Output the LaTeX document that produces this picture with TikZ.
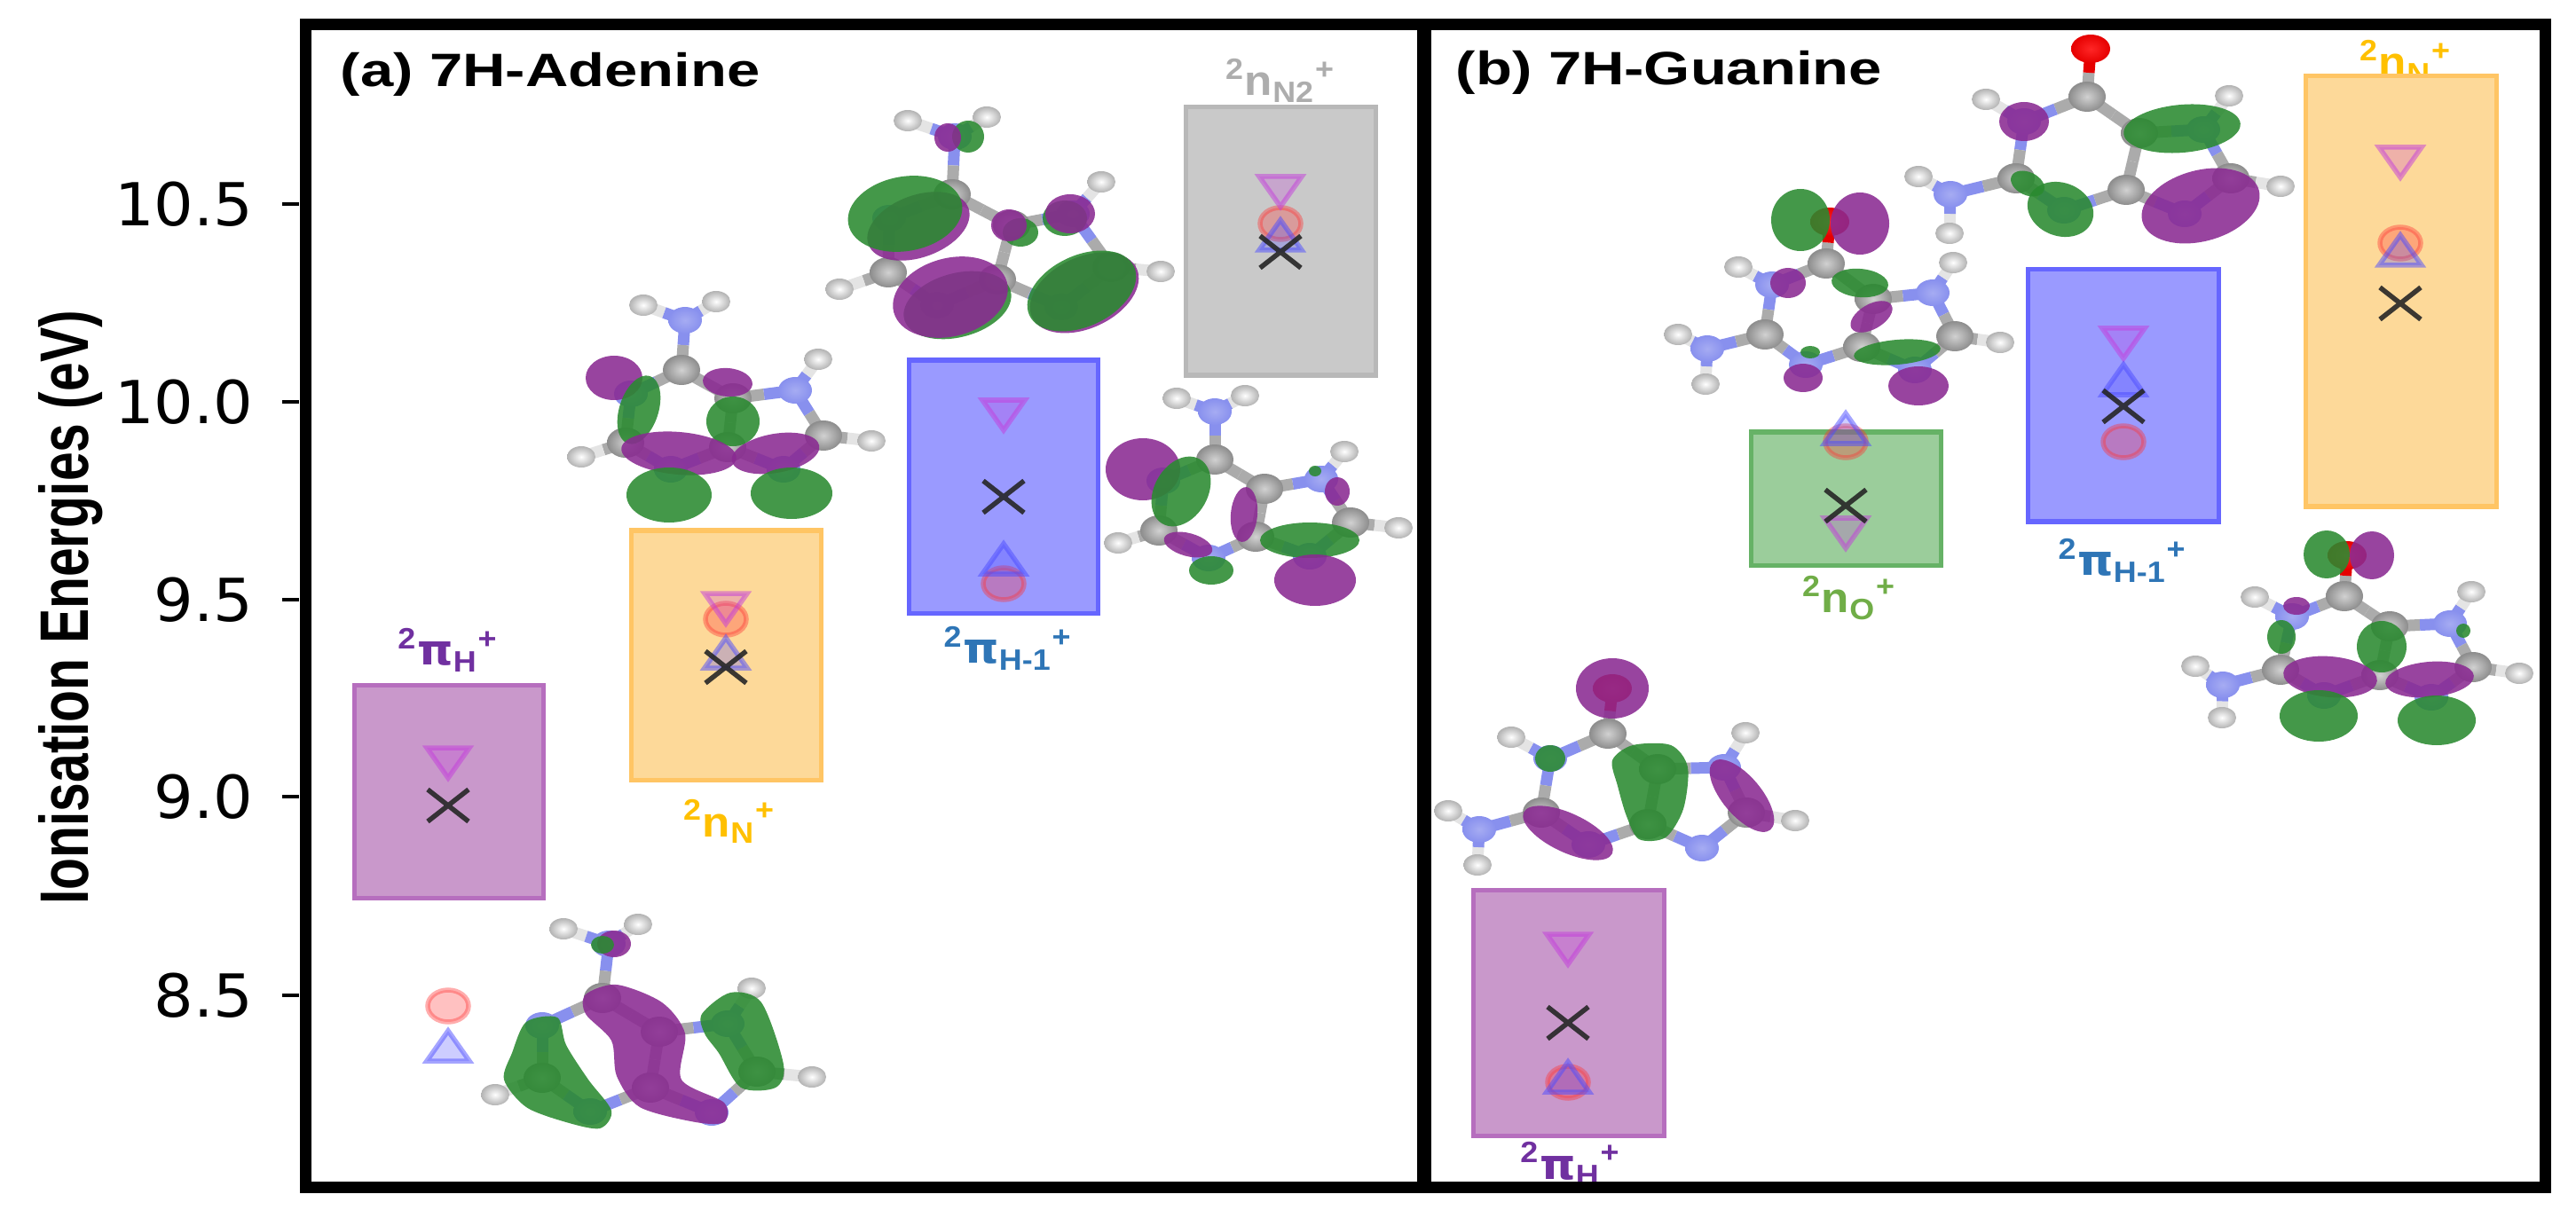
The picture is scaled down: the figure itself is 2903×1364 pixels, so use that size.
\documentclass[tikz,border=0pt]{standalone}
\usepackage{fontspec}
\setmainfont{Liberation Sans}
\newfontfamily\tickfont{DejaVu Sans}
\usetikzlibrary{calc}
\definecolor{stickc}{HTML}{ABABAB}
\definecolor{stickn}{HTML}{8890EE}
\definecolor{stickh}{HTML}{E4E4E4}
\definecolor{sticko}{HTML}{E60000}
\definecolor{lobegreen}{HTML}{2A8A30}
\definecolor{lobepurple}{HTML}{8A2A92}
\definecolor{dncol}{HTML}{C43CDC}
\tikzset{
	frameline/.style={line width=0.13cm,black},
	tickline/.style={line width=0.04cm,black},
	ticklab/.style={anchor=east,inner sep=0,xscale=1.05,transform shape,font=\tickfont\fontsize{19}{22}\selectfont},
	paneltitle/.style={anchor=base west,inner sep=0,xscale=1.27,transform shape,font=\bfseries\fontsize{15}{18}\selectfont},
	statelab/.style={inner sep=0,xscale=1.08,transform shape,font=\bfseries\fontsize{13.5}{16}\selectfont},
	ebox/.style={line width=0.05cm},
	stick/.style={line width=0.13cm},
	lobeg/.style={fill=lobegreen,opacity=0.88},
	lobep/.style={fill=lobepurple,opacity=0.88},
	dnmark/.style={draw=dncol,fill=dncol,draw opacity=0.5,fill opacity=0.25,line width=0.055cm,line join=miter},
	upmark/.style={draw=blue!70,fill=blue!70,draw opacity=0.5,fill opacity=0.28,line width=0.055cm,line join=miter},
	cimark/.style={draw=red!80,fill=red!80,draw opacity=0.4,fill opacity=0.3,line width=0.055cm},
	crmark/.style={draw=black!85,opacity=0.9,line width=0.055cm},
}
% half sticks, lobes and the three atom kinds
\def\halfstick#1#2#3{\draw[stick,#3] (#1) -- ($(#1)!0.5!(#2)$);}
\def\lobe#1(#2,#3)(#4:#5:#6){\fill[#1,shift={(#2,#3)},rotate=#6] (0,0) ellipse [x radius=#4, y radius=#5];}
\def\ionlab#1#2{\textsuperscript{2}#1\textsubscript{#2}\textsuperscript{+}}
\def\pisym{{\tickfont π}}
\def\hball#1{\shade[inner color=white,outer color=black!30] (#1) ellipse [x radius=16, y radius=12];}
\def\ringsticks{
	\foreach \p/\q/\cp/\cq in {ha1/na/stickh/stickn,ha2/na/stickh/stickn,c6/n1/stickc/stickn,n1/c2/stickn/stickc,c2/n3/stickc/stickn,n3/c4/stickn/stickc,c4/c5/stickc/stickc,c5/c6/stickc/stickc,c5/n7/stickc/stickn,n7/h7/stickn/stickh,n7/c8/stickn/stickc,c8/h8/stickc/stickh,c8/n9/stickc/stickn,n9/c4/stickn/stickc}{
		\halfstick{\p}{\q}{\cp}
		\halfstick{\q}{\p}{\cq}
	}
}
\def\ringballs{
	\foreach \a in {c6,c2,c4,c5,c8}{\shade[inner color=black!18,outer color=black!45] (\a) ellipse [x radius=21, y radius=17];}
	\foreach \a in {na,n1,n3,n7,n9}{\shade[inner color=stickn!75,outer color=stickn] (\a) ellipse [x radius=19, y radius=15];}
	\foreach \a in {ha1,ha2,h7,h8}{\hball{\a}}
}
\def\adenine#1{
	\foreach \n/\x/\y in {#1}{\coordinate (\n) at (\x,\y);}
	\halfstick{na}{c6}{stickn}\halfstick{c6}{na}{stickc}
	\halfstick{c2}{h2}{stickc}\halfstick{h2}{c2}{stickh}
	\ringsticks\ringballs
	\hball{h2}
}
\def\guanine#1{
	\foreach \n/\x/\y in {#1}{\coordinate (\n) at (\x,\y);}
	\halfstick{na}{c2}{stickn}\halfstick{c2}{na}{stickc}
	\halfstick{n1}{h1}{stickn}\halfstick{h1}{n1}{stickh}
	\halfstick{c6}{o}{stickc}\halfstick{o}{c6}{sticko}
	\ringsticks\ringballs
	\hball{h1}
	\shade[inner color=red!85,outer color=red!90!black] (o) ellipse [x radius=22, y radius=16];
}
\begin{document}
\begin{tikzpicture}[x=0.01cm,y=-0.01cm]
	\useasboundingbox (0,0) rectangle (2903,1364);
	%%%%% labels under the boxes %%%%%
	\node[statelab,text=black!32] (labnn) at (1443,91) {\ionlab{n}{N2}};
	\node[statelab,text={rgb,255:red,112;green,48;blue,160}] (labpa) at (505,733) {\ionlab{\pisym}{H}};
	\node[statelab,text={rgb,255:red,255;green,192;blue,0}] (labna) at (822,926) {\ionlab{n}{N}};
	\node[statelab,text={rgb,255:red,46;green,117;blue,182}] (labpha) at (1136,731) {\ionlab{\pisym}{H-1}};
	\node[statelab,text={rgb,255:red,112;green,173;blue,71}] (labo) at (2084,674) {\ionlab{n}{O}};
	\node[statelab,text={rgb,255:red,46;green,117;blue,182}] (labphb) at (2392,632) {\ionlab{\pisym}{H-1}};
	\node[statelab,text={rgb,255:red,255;green,192;blue,0}] (labnb) at (2711,70) {\ionlab{n}{N}};
	\node[statelab,text={rgb,255:red,112;green,48;blue,160}] (labpb) at (1770,1312) {\ionlab{\pisym}{H}};
	%%%%% boxes %%%%%
	\draw[ebox,draw={rgb,255:red,182;green,110;blue,190},fill={rgb,255:red,201;green,152;blue,203}] (399,772) rectangle (612,1012);
	\draw[ebox,draw={rgb,255:red,255;green,197;blue,100},fill={rgb,255:red,253;green,217;blue,153}] (711,598) rectangle (925,879);
	\draw[ebox,draw={rgb,255:red,102;green,102;blue,255},fill={rgb,255:red,154;green,154;blue,255}] (1024,406) rectangle (1237,691);
	\draw[ebox,draw=black!28,fill=black!21] (1336,121) rectangle (1550,423);
	\draw[ebox,draw={rgb,255:red,182;green,110;blue,190},fill={rgb,255:red,201;green,152;blue,203}] (1660,1003) rectangle (1875,1280);
	\draw[ebox,draw={rgb,255:red,102;green,178;blue,102},fill={rgb,255:red,155;green,205;blue,155}] (1973,487) rectangle (2187,637);
	\draw[ebox,draw={rgb,255:red,102;green,102;blue,255},fill={rgb,255:red,154;green,154;blue,255}] (2285,304) rectangle (2500,588);
	\draw[ebox,draw={rgb,255:red,255;green,197;blue,100},fill={rgb,255:red,253;green,217;blue,153}] (2598,86) rectangle (2813,571);
	%%%%% markers %%%%%
	\foreach \cx/\dn/\ci/\up/\cr in {505/860/1134/1179/908,818/686/698/736/752,1131/468/658/630/560,1443/216/252/265/284,1767/1070/1220/1214/1153,2080/601/498/483/570,2393/387/498/428/458,2705/183/274/282/342}{
		\draw[cimark] (\cx,\ci) ellipse [x radius=23, y radius=18];
		\draw[dnmark,shift={(\cx,\dn)}] (-24,-17) -- (24,-17) -- (0,17) -- cycle;
		\draw[upmark,shift={(\cx,\up)}] (-24,17) -- (24,17) -- (0,-17) -- cycle;
		\draw[crmark,shift={(\cx,\cr)}] (-23,-18) -- (23,18) (-23,18) -- (23,-18);
	}
	%%%%% adenine, lowest %%%%%
	\adenine{ha1/635/1047,ha2/719/1042,na/686/1064,c6/679/1125,n1/611/1156,c2/611/1215,h2/558/1234,n3/665/1253,c4/733/1226,c5/743/1163,n7/820/1154,h7/847/1114,c8/853/1208,h8/915/1214,n9/802/1254}
	\lobe{lobep}(692,1064)(19:15:0)
	\lobe{lobeg}(679,1065)(13:10:0)
	\fill[lobeg] plot[smooth cycle] coordinates {(593,1152)(628,1147)(638,1178)(663,1217)(689,1252)(676,1272)(638,1265)(593,1248)(568,1217)(577,1187)};
	\fill[lobep] plot[smooth cycle] coordinates {(660,1121)(695,1110)(746,1130)(772,1165)(768,1217)(816,1243)(816,1265)(784,1265)(721,1248)(695,1213)(689,1173)(660,1143)};
	\fill[lobeg] plot[smooth cycle] coordinates {(791,1143)(823,1119)(858,1130)(883,1200)(874,1226)(835,1226)(810,1187)(794,1165)};
	%%%%% adenine, second %%%%%
	\adenine{ha1/725/344,ha2/807/340,na/772/361,c6/768/417,n1/711/444,c2/705/499,h2/655/515,n3/756/529,c4/820/504,c5/826/449,n7/896/440,h7/922/405,c8/928/491,h8/982/497,n9/883/529}
	\lobe{lobep}(692,426)(32:25:0)
	\lobe{lobeg}(720,462)(22:40:-18)
	\lobe{lobep}(820,431)(28:16:-5)
	\lobe{lobeg}(826,475)(30:28:0)
	\lobe{lobep}(765,511)(65:24:-5)
	\lobe{lobep}(874,511)(50:22:10)
	\lobe{lobeg}(754,558)(48:31:0)
	\lobe{lobeg}(892,556)(46:29:0)
	%%%%% adenine, third %%%%%
	\adenine{ha1/1023/136,ha2/1112/132,na/1076/154,c6/1073/219,n1/1002/246,c2/1001/307,h2/946/326,n3/1056/344,c4/1124/315,c5/1140/254,n7/1209/241,h7/1241/205,c8/1252/301,h8/1308/306,n9/1196/346}
	\lobe{lobeg}(1091,154)(18:18:0)
	\lobe{lobep}(1068,155)(15:16:0)
	\lobe{lobep}(1035,255)(60:35:20)
	\lobe{lobeg}(1020,241)(65:42:10)
	\lobe{lobeg}(1150,262)(20:16:0)
	\lobe{lobep}(1137,254)(20:18:0)
	\lobe{lobeg}(1200,246)(25:20:0)
	\lobe{lobep}(1206,241)(28:22:0)
	\lobe{lobeg}(1079,344)(62:36:15)
	\lobe{lobep}(1071,335)(66:44:15)
	\lobe{lobep}(1222,330)(65:40:25)
	\lobe{lobeg}(1219,328)(65:40:25)
	%%%%% adenine, fourth %%%%%
	\adenine{ha1/1326/449,ha2/1403/446,na/1369/464,c6/1369/518,n1/1311/542,c2/1306/598,h2/1260/612,n3/1362/629,c4/1415/605,c5/1425/551,n7/1489/540,h7/1515/509,c8/1522/589,h8/1576/595,n9/1476/627}
	\lobe{lobep}(1288,529)(42:35:0)
	\lobe{lobeg}(1331,554)(30:42:-30)
	\lobe{lobep}(1402,580)(15:31:-5)
	\lobe{lobeg}(1476,609)(56:20:0)
	\lobe{lobep}(1482,654)(46:29:0)
	\lobe{lobep}(1339,614)(28:13:-15)
	\lobe{lobeg}(1365,643)(25:16:0)
	\lobe{lobep}(1507,554)(14:16:0)
	\lobe{lobeg}(1482,531)(7:6:0)
	%%%%% guanine, lowest %%%%%
	\guanine{o/1817/776,c6/1812/827,n1/1747/855,h1/1703/831,c2/1737/916,na/1667/935,ha1/1632/914,ha2/1665/975,n3/1790/952,c4/1857/929,c5/1868/867,n7/1943/865,h7/1967/826,c8/1968/916,h8/2023/925,n9/1918/956}
	\lobe{lobep}(1817,776)(41:34:0)
	\lobe{lobeg}(1747,855)(17:15:0)
	\fill[lobeg] plot[smooth cycle] coordinates {(1817,857)(1840,840)(1883,840)(1902,865)(1897,912)(1877,944)(1847,946)(1833,920)(1823,886)};
	\lobe{lobep}(1767,939)(55:22:-25)
	\lobe{lobep}(1963,897)(50:22:-50)
	%%%%% guanine, second %%%%%
	\guanine{o/2062/250,c6/2058/297,n1/1997/321,h1/1959/301,c2/1989/377,na/1924/393,ha1/1891/377,ha2/1922/433,n3/2035/411,c4/2098/391,c5/2111/337,n7/2178/330,h7/2201/296,c8/2203/379,h8/2254/386,n9/2158/417}
	\lobe{lobeg}(2029,248)(33:35:0)
	\lobe{lobep}(2096,252)(33:35:0)
	\lobe{lobep}(2015,319)(20:17:0)
	\lobe{lobeg}(2096,319)(32:16:-5)
	\lobe{lobep}(2109,357)(26:14:30)
	\lobe{lobeg}(2138,397)(49:14:5)
	\lobe{lobep}(2162,435)(34:22:0)
	\lobe{lobep}(2032,426)(22:16:0)
	\lobe{lobeg}(2040,397)(11:7:0)
	%%%%% guanine, third %%%%%
	\guanine{o/2356/55,c6/2352/109,n1/2281/137,h1/2238/112,c2/2272/201,na/2198/219,ha1/2162/199,ha2/2197/263,n3/2326/237,c4/2396/214,c5/2411/150,n7/2483/146,h7/2512/108,c8/2514/201,h8/2570/210,n9/2462/241}
	\lobe{lobep}(2281,137)(28:22:0)
	\lobe{lobeg}(2459,145)(66:27:5)
	\lobe{lobeg}(2285,207)(20:13:-25)
	\lobe{lobeg}(2322,236)(38:30:-20)
	\lobe{lobep}(2480,232)(68:40:15)
	%%%%% guanine, fourth %%%%%
	\guanine{o/2645/626,c6/2642/672,n1/2583/695,h1/2541/673,c2/2570/755,na/2505/772,ha1/2474/751,ha2/2504/809,n3/2619/784,c4/2682/761,c5/2693/706,n7/2761/703,h7/2785/667,c8/2787/752,h8/2839/759,n9/2740/786}
	\lobe{lobeg}(2622,625)(26:27:0)
	\lobe{lobep}(2673,626)(25:27:0)
	\lobe{lobep}(2588,683)(15:10:0)
	\lobe{lobeg}(2571,718)(16:19:0)
	\lobe{lobeg}(2684,729)(28:29:0)
	\lobe{lobep}(2626,763)(53:23:-5)
	\lobe{lobep}(2738,766)(50:20:5)
	\lobe{lobeg}(2613,807)(44:29:0)
	\lobe{lobeg}(2746,812)(44:28:0)
	\lobe{lobeg}(2776,711)(8:8:0)
	%%%%% frame and axis %%%%%
	\draw[frameline] (344,28) rectangle (2868,1338);
	\draw[frameline,line width=0.16cm] (1605,28) -- (1605,1338);
	\foreach \yy/\lab in {230/10.5,453/10.0,676/9.5,898/9.0,1122/8.5}{
		\draw[tickline] (318,\yy) -- (337,\yy);
		\node[ticklab] (t\yy) at (286,\yy) {\lab};
	}
	\node[rotate=90,xscale=0.76,transform shape,anchor=base,inner sep=0,font=\bfseries\fontsize{22}{25}\selectfont] (ylab) at (99,685) {Ionisation Energies (eV)};
	\node[paneltitle] (titlea) at (383,98) {(a) 7H-Adenine};
	\node[paneltitle] (titleb) at (1640,96) {(b) 7H-Guanine};
\end{tikzpicture}
\end{document}
